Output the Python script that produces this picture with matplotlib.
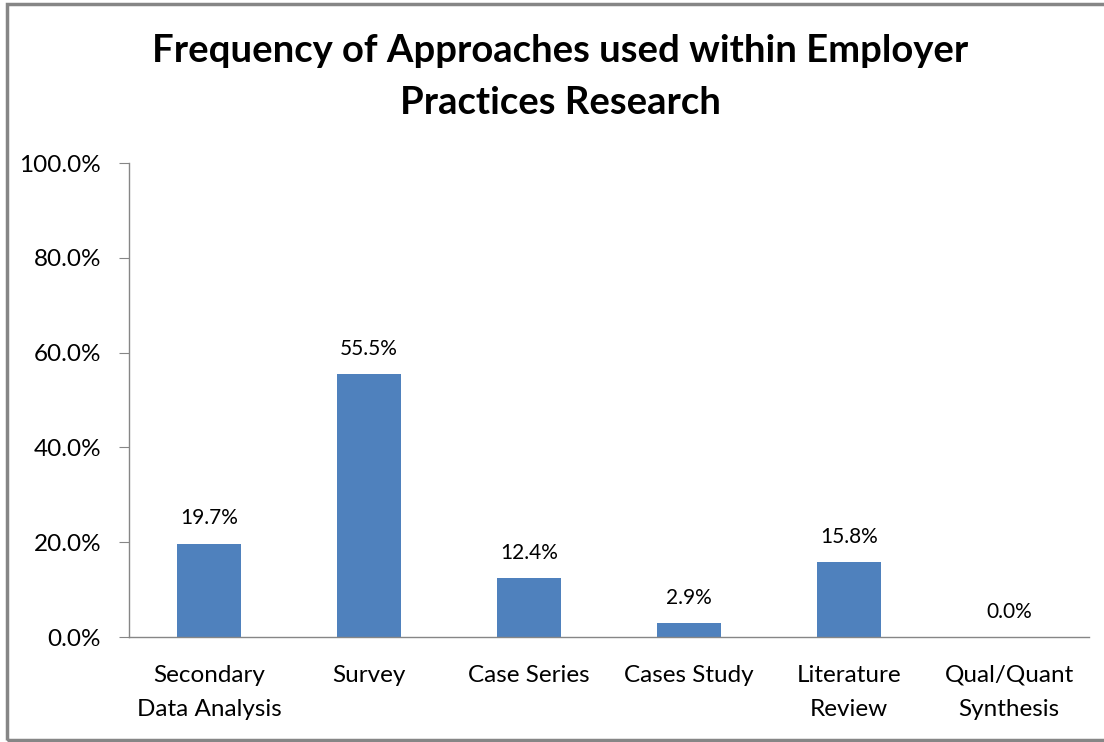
import matplotlib
matplotlib.use("Agg")
import matplotlib.pyplot as plt
from matplotlib.patches import Rectangle
from matplotlib.ticker import FuncFormatter, MultipleLocator

categories = ["Secondary\nData Analysis", "Survey", "Case Series", "Cases Study",
              "Literature\nReview", "Qual/Quant\nSynthesis"]
values = [19.7, 55.5, 12.4, 2.9, 15.8, 0.0]
title = "Frequency of Approaches used within Employer\nPractices Research"

plt.rcParams['font.family'] = ['Lato', 'DejaVu Sans']

fig = plt.figure(figsize=(11.04, 7.42), dpi=100)
ax = fig.add_axes([129/1104, 105/742, 960/1104, 474/742])

x = range(len(categories))
bars = ax.bar(x, values, width=0.4, color="#4F81BD")
ax.set_xlim(-0.5, len(categories) - 0.5)
ax.set_ylim(0, 100)
ax.yaxis.set_major_locator(MultipleLocator(20))
ax.yaxis.set_major_formatter(FuncFormatter(lambda v, p: f"{v:.1f}%"))
ax.set_xticks(list(x))
ax.set_xticklabels(categories, fontsize=17.5, linespacing=1.8)
ax.tick_params(axis='x', length=0, pad=20)
ax.tick_params(axis='y', length=7, color="#868686", labelsize=17.5, pad=13)

for s in ["top", "right"]:
    ax.spines[s].set_visible(False)
for s in ["left", "bottom"]:
    ax.spines[s].set_color("#868686")
    ax.spines[s].set_linewidth(1.0)

for xi, v in zip(x, values):
    ax.annotate(f"{v:.1f}%", (xi, v), xytext=(0, 11), textcoords="offset points",
                ha="center", va="bottom", fontsize=15)

fig.text(560/1104, 1 - 77/742, title, ha="center", va="center",
         fontsize=27.5, fontweight="bold", linespacing=1.65)

fig.patches.append(Rectangle((7/1104, 2/742), 1.2, 736/742, transform=fig.transFigure,
                             fill=False, edgecolor="#868686", linewidth=2.5))

fig.savefig("out.png", dpi=100)
